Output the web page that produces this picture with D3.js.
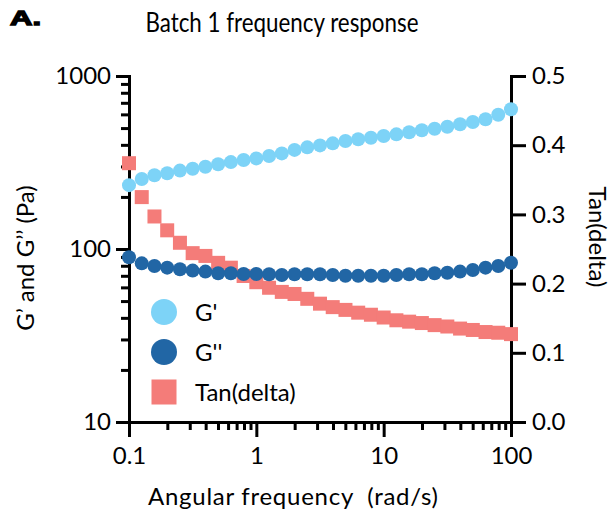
<!DOCTYPE html>
<html>
<head>
<meta charset="utf-8">
<script src="https://cdn.jsdelivr.net/npm/d3@7"></script>
<style>
  body { margin: 0; background: #fff; }
  text { font-family: Lato, "Open Sans", sans-serif; fill: #000; }
  .axis path, .axis line { stroke: #000; stroke-width: 3px; }
  .axis text { font-size: 24px; font-family: Lato, sans-serif; }
</style>
</head>
<body>
<script>
/*
Batch 1 frequency response - G', G'' and tan(delta)
*/

// angular frequency, rad/s (10 points per decade)
var freq = [0.1, 0.1259, 0.1585, 0.1995, 0.2512, 0.3162, 0.3981, 0.5012, 0.631, 0.7943,
            1, 1.259, 1.585, 1.995, 2.512, 3.162, 3.981, 5.012, 6.31, 7.943,
            10, 12.59, 15.85, 19.95, 25.12, 31.62, 39.81, 50.12, 63.1, 79.43, 100];

// storage modulus G' (Pa)
var gPrime = [234, 254, 267, 274, 284, 291, 299, 309, 318, 327,
              334, 345, 357, 374, 387, 397, 408, 421, 431, 440,
              450, 460, 473, 486, 496, 509, 526, 542, 562, 597, 642];

// loss modulus G'' (Pa)
var gDouble = [89.6, 82.6, 79.8, 78.0, 76.3, 75.0, 74.0, 72.4, 72.4, 71.7,
               71.7, 71.4, 70.8, 71.4, 71.4, 71.4, 70.8, 70.1, 70.1, 70.1,
               70.1, 70.8, 71.4, 71.4, 72.4, 72.9, 74.0, 75.6, 78.0, 79.8, 83.3];

// tan(delta)
var tanDelta = [0.374, 0.325, 0.297, 0.277, 0.259, 0.244, 0.240, 0.230, 0.223, 0.211,
                0.202, 0.194, 0.188, 0.185, 0.178, 0.171, 0.166, 0.162, 0.158, 0.155,
                0.151, 0.147, 0.145, 0.143, 0.140, 0.138, 0.135, 0.133, 0.130, 0.129, 0.127];

var xTicks = [0.1, 1, 10, 100];
var xTickLabels = ["0.1", "1", "10", "100"];
var yLeftTicks = [10, 100, 1000];
var yRightTicks = [0, 0.1, 0.2, 0.3, 0.4, 0.5];

var legendNames = ["G'", "G''", "Tan(delta)"];
var colors = ["#7dd3f7", "#2166a5", "#f47c79"];

var width = 616;
var height = 522;
var margin = {
  top: 76,
  left: 129,
  right: 105,
  bottom: 100
};

var xScale = d3.scaleLog()
               .domain([0.1, 100])
               .range([margin.left, width - margin.right]);

var yScale = d3.scaleLog()
               .domain([10, 1000])
               .range([height - margin.bottom, margin.top]);

var yScale2 = d3.scaleLinear()
                .domain([0, 0.5])
                .range([height - margin.bottom, margin.top]);

var svg = d3.select("body")
            .append("svg")
            .attr("width", width)
            .attr("height", height);

// minor ticks for log axes
function minors(lo, hi) {
  var out = [];
  for (var d = lo; d < hi; d *= 10) {
    for (var k = 2; k <= 9; k++) out.push(d * k);
  }
  return out;
}

var bottom = height - margin.bottom;
var right = width - margin.right;

// x axis
svg.append("g")
   .attr("class", "axis")
   .attr("transform", `translate(0,${bottom})`)
   .call(d3.axisBottom(xScale).tickValues(minors(0.1, 100)).tickSize(8).tickSizeOuter(0).tickFormat(""));
svg.append("g")
   .attr("class", "axis")
   .attr("transform", `translate(0,${bottom})`)
   .call(d3.axisBottom(xScale).tickValues(xTicks).tickSize(15).tickSizeOuter(0).tickPadding(10)
         .tickFormat(function(d, i) { return xTickLabels[i]; }));

// left axis
svg.append("g")
   .attr("class", "axis")
   .attr("transform", `translate(${margin.left},0)`)
   .call(d3.axisLeft(yScale).tickValues(minors(10, 1000)).tickSize(8).tickSizeOuter(0).tickFormat(""));
svg.append("g")
   .attr("class", "axis")
   .attr("transform", `translate(${margin.left},0)`)
   .call(d3.axisLeft(yScale).tickValues(yLeftTicks).tickSize(13).tickSizeOuter(0).tickPadding(5)
         .tickFormat(d3.format("d")));

// right axis
svg.append("g")
   .attr("class", "axis")
   .attr("transform", `translate(${right},0)`)
   .call(d3.axisRight(yScale2).tickValues(yRightTicks).tickSize(15).tickSizeOuter(0).tickPadding(6)
         .tickFormat(d3.format(".1f")));

svg.selectAll(".axis .domain").attr("stroke-linecap", "square");

// data
var rows = freq.map(function(f, i) {
  return { f: f, g1: gPrime[i], g2: gDouble[i], td: tanDelta[i] };
});

var sq = 14;
svg.append("g").selectAll("rect")
   .data(rows)
   .enter().append("rect")
   .attr("x", function(d) { return xScale(d.f) - sq / 2; })
   .attr("y", function(d) { return yScale2(d.td) - sq / 2; })
   .attr("width", sq)
   .attr("height", sq)
   .attr("fill", colors[2]);

svg.append("g").selectAll("circle")
   .data(rows)
   .enter().append("circle")
   .attr("cx", function(d) { return xScale(d.f); })
   .attr("cy", function(d) { return yScale(d.g2); })
   .attr("r", 7)
   .attr("fill", colors[1]);

svg.append("g").selectAll("circle")
   .data(rows)
   .enter().append("circle")
   .attr("cx", function(d) { return xScale(d.f); })
   .attr("cy", function(d) { return yScale(d.g1); })
   .attr("r", 7)
   .attr("fill", colors[0]);

// legend
var legend = svg.append("g").attr("transform", "translate(164,312)");
legendNames.forEach(function(name, i) {
  var g = legend.append("g").attr("transform", `translate(0,${i * 40})`);
  if (i < 2) {
    g.append("circle").attr("r", 13).attr("fill", colors[i]);
  } else {
    g.append("rect").attr("x", -12.5).attr("y", -12.5).attr("width", 25).attr("height", 25).attr("fill", colors[i]);
  }
  g.append("text")
   .attr("x", 31)
   .attr("dy", "0.36em")
   .style("font-size", "24px")
   .text(name);
});

// titles and labels
svg.append("text")
   .attr("x", 10)
   .attr("y", 25)
   .attr("textLength", 31)
   .attr("lengthAdjust", "spacingAndGlyphs")
   .style("font-family", "'Liberation Sans', Arial, sans-serif")
   .style("font-size", "21px")
   .style("font-weight", "bold")
   .style("stroke", "#000")
   .style("stroke-width", "1.3px")
   .text("A.");

svg.append("text")
   .attr("text-anchor", "middle")
   .attr("x", 282)
   .attr("y", 32)
   .attr("textLength", 273)
   .attr("lengthAdjust", "spacingAndGlyphs")
   .style("font-size", "27px")
   .text("Batch 1 frequency response");

svg.append("text")
   .attr("text-anchor", "middle")
   .attr("transform", "translate(34,258)rotate(-90)")
   .style("font-size", "24px")
   .text("G\u2019 and G\u2019\u2019 (Pa)");

svg.append("text")
   .attr("text-anchor", "middle")
   .attr("transform", "translate(589,237)rotate(90)")
   .style("font-size", "24px")
   .text("Tan(delta)");

svg.append("text")
   .attr("text-anchor", "middle")
   .attr("x", 293)
   .attr("y", 505)
   .attr("textLength", 290)
   .style("font-size", "24px")
   .style("white-space", "pre")
   .text("Angular frequency  (rad/s)");
</script>
</body>
</html>
